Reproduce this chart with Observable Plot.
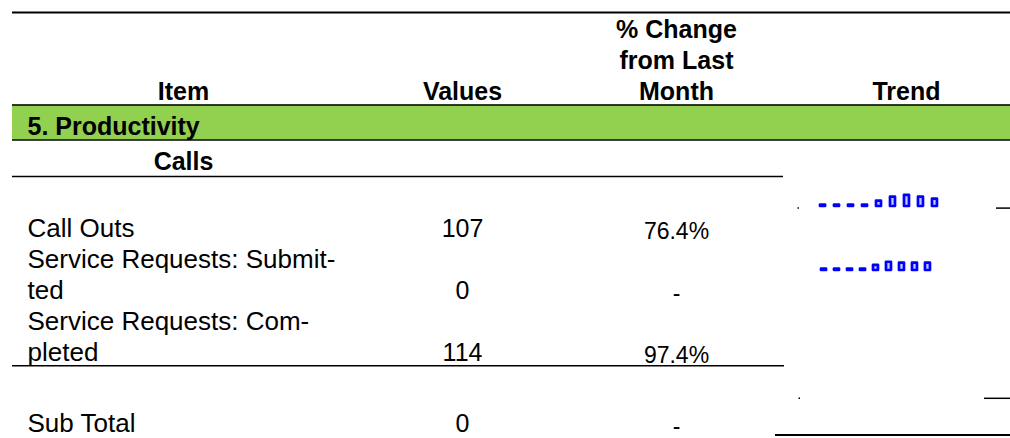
<!DOCTYPE html>
<html><head><meta charset="utf-8">
<script src="https://cdn.jsdelivr.net/npm/d3@7"></script>
<script src="https://cdn.jsdelivr.net/npm/@observablehq/plot@0.6"></script>
<style>
html,body{margin:0;padding:0;background:#fff;}
#chart{position:relative;width:1010px;height:438px;overflow:hidden;}
#chart svg{position:absolute;}
</style></head><body><div id="chart"></div>
<script>
// ---------- data ----------
const headers = ["Item", "Values", "% Change\nfrom Last\nMonth", "Trend"];
const sectionTitle = "5. Productivity";
const groupTitle = "Calls";
const items = ["Call Outs", "Service Requests: Submit-\nted", "Service Requests: Com-\npleted", "Sub Total"];
const values = [107, 0, 114, 0];
const pctChange = ["76.4%", "-", "97.4%", "-"];
const months = [1, 2, 3, 4, 5, 6, 7, 8, 9];
const callOutsTrend = [0, 0, 0, 0, 40, 82, 100, 82, 60];
const serviceRequestsTrend = [0, 0, 0, 0, 37, 70, 60, 60, 60];

// ---------- layout (positions / styles) ----------
const W = 1010, H = 438;
const FONT = '"Liberation Sans", Arial, sans-serif';
const L = {
  left: 12, right: 1010, textLeft: 27,
  colX: [183, 462, 676, 906],
  headerBase: 99, headerLH: 31,
  bandTop: 104.5, bandBottom: 139.5, sectionBase: 134,
  groupBase: 169,
  rowBase: [236, 298, 360, 431.5],
  pctShift: [2, 2, 2, 1.5],
  lines: [
    {y: 12, x1: 12, x2: 1010, w: 2},
    {y: 104.5, x1: 12, x2: 1010, w: 1.5},
    {y: 139.5, x1: 12, x2: 1010, w: 1.5},
    {y: 176, x1: 12, x2: 783, w: 1.5},
    {y: 207.6, x1: 996, x2: 1010, w: 1.5},
    {y: 207.6, x1: 797.5, x2: 799, w: 1.5},
    {y: 365.3, x1: 12, x2: 784, w: 1.5},
    {y: 397.8, x1: 984, x2: 1010, w: 1.5},
    {y: 397.8, x1: 798.5, x2: 800, w: 1.5},
    {y: 434.5, x1: 775, x2: 1010, w: 2}
  ],
  sparks: [
    {data: callOutsTrend, c0: 820, step: 14.67, bottom: 207.3},
    {data: serviceRequestsTrend, c0: 822.3, step: 13.5, bottom: 271}
  ]
};

const rows = items.map((item, i) => ({item, value: String(values[i]), pct: pctChange[i], base: L.rowBase[i], pbase: L.rowBase[i] + L.pctShift[i]}));
const heads = headers.map((h, i) => ({h, x: L.colX[i]}));

const main = Plot.plot({
  width: W, height: H, margin: 0,
  x: {domain: [0, W], range: [0, W], axis: null},
  y: {domain: [0, H], range: [0, H], axis: null},
  style: {fontFamily: FONT, color: "#000", background: "transparent"},
  marks: [
    Plot.rect([sectionTitle], {x1: () => L.left, x2: () => L.right, y1: () => L.bandTop, y2: () => L.bandBottom, fill: "#92D050"}),
    Plot.ruleY(L.lines, {y: "y", x1: "x1", x2: "x2", strokeWidth: "w", stroke: "#000"}),
    Plot.text(heads, {x: "x", y: () => L.headerBase, text: "h", fontSize: 25, fontWeight: "bold", lineAnchor: "bottom", lineHeight: L.headerLH / 25, fill: "#000"}),
    Plot.text([sectionTitle], {x: () => L.textLeft, y: () => L.sectionBase, text: d => d, textAnchor: "start", lineAnchor: "bottom", fontSize: 25, fontWeight: "bold", fill: "#000"}),
    Plot.text([groupTitle], {x: () => L.colX[0], y: () => L.groupBase, text: d => d, lineAnchor: "bottom", fontSize: 25, fontWeight: "bold", fill: "#000"}),
    Plot.text(rows, {x: () => L.textLeft, y: "base", text: "item", textAnchor: "start", lineAnchor: "bottom", lineHeight: 31 / 26, fontSize: 26, fill: "#000"}),
    Plot.text(rows, {x: () => L.colX[1], y: "base", text: "value", lineAnchor: "bottom", fontSize: 25, fill: "#000"}),
    Plot.text(rows, {x: () => L.colX[2], y: "pbase", text: "pct", lineAnchor: "bottom", fontSize: 23, fill: "#000"})
  ]
});
main.style.left = "0px"; main.style.top = "0px";
document.getElementById("chart").appendChild(main);

const P = 0.62, SH = 24, BASE = 20, SW = 2.7;
for (const s of L.sparks) {
  const w = s.step * (months.length + P);
  const sp = Plot.plot({
    width: w, height: SH, margin: 0,
    x: {type: "band", domain: months, padding: P, range: [0, w], axis: null},
    y: {domain: [0, 100], range: [BASE, BASE - 9.8], axis: null},
    style: {background: "transparent", overflow: "visible"},
    marks: [
      Plot.barY(s.data.map((v, i) => ({m: months[i], v})), {x: "m", y: "v", insetTop: -1.4, fill: "#c8c8ff", stroke: "#0000ff", strokeWidth: SW, strokeLinejoin: "round"})
    ]
  });
  sp.style.left = (s.c0 - s.step * (1 + P) / 2) + "px";
  sp.style.top = (s.bottom - BASE - SW / 2) + "px";
  document.getElementById("chart").appendChild(sp);
}
</script></body></html>
